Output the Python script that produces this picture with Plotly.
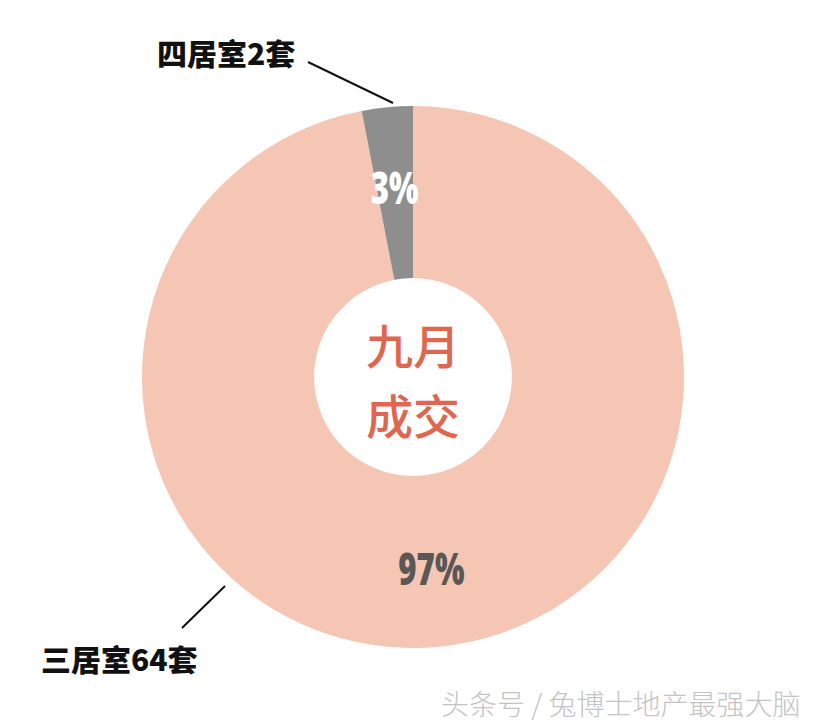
import math
import plotly.graph_objects as go

# Data
categories = ["三居室", "四居室"]
counts = [64, 2]
percent_labels = ["97%", "3%"]
center_title = ["九月", "成交"]
watermark = "头条号 / 兔博士地产最强大脑"

colors = ["#f5c6b4", "#8e8e8e"]
pct_colors = ["#5b5757", "#ffffff"]

W, H = 814, 728
cx, cy, R = 413, 377, 271  # pixel centre and radius

dom_x = [(cx - R) / W, (cx + R) / W]
dom_y = [(H - cy - R) / H, (H - cy + R) / H]

fig = go.Figure(go.Pie(
    labels=categories,
    values=counts,
    sort=False,
    direction="clockwise",
    rotation=0,
    hole=0.365,
    marker=dict(colors=colors, line=dict(width=0)),
    textinfo="none",
    hoverinfo="label+value+percent",
    showlegend=False,
    domain=dict(x=dom_x, y=dom_y),
))

annotations = []
total = sum(counts)
start = 0.0
for i, v in enumerate(counts):
    frac = v / total
    mid = (start + frac / 2) * 2 * math.pi  # clockwise from top
    start += frac
    r = 0.705 * R
    px = cx + r * math.sin(mid)
    py = cy - r * math.cos(mid)
    annotations.append(dict(
        x=px / W, y=1 - py / H, xref="paper", yref="paper",
        text=percent_labels[i], showarrow=False,
        font=dict(family="Open Sans", size=40, color=pct_colors[i], weight=800),
        xanchor="center", yanchor="middle",
    ))

# centre text
for j, t in enumerate(center_title):
    annotations.append(dict(
        x=cx / W, y=1 - (343 + 70 * j) / H, xref="paper", yref="paper",
        text=t, showarrow=False,
        font=dict(family="Noto Sans CJK SC", size=47, color="#e0674f", weight=500),
        xanchor="center", yanchor="middle",
    ))

# outside labels
annotations.append(dict(
    x=155 / W, y=1 - 52 / H, xref="paper", yref="paper",
    text=f"{categories[1]}{counts[1]}套", showarrow=False,
    font=dict(family="Noto Sans CJK SC", size=30, color="#111111", weight=900),
    xanchor="left", yanchor="middle",
))
annotations.append(dict(
    x=39 / W, y=1 - 658 / H, xref="paper", yref="paper",
    text=f"{categories[0]}{counts[0]}套", showarrow=False,
    font=dict(family="Noto Sans CJK SC", size=30, color="#111111", weight=900),
    xanchor="left", yanchor="middle",
))

# watermark
annotations.append(dict(
    x=802 / W, y=1 - 703 / H, xref="paper", yref="paper",
    text=watermark, showarrow=False,
    font=dict(family="Noto Sans CJK SC", size=28, color="#c4c4c4", weight=300),
    xanchor="right", yanchor="middle",
))

shapes = [
    dict(type="line", xref="paper", yref="paper",
         x0=308 / W, y0=1 - 62 / H, x1=393 / W, y1=1 - 103 / H,
         line=dict(color="#111111", width=2)),
    dict(type="line", xref="paper", yref="paper",
         x0=225 / W, y0=1 - 586 / H, x1=182 / W, y1=1 - 628 / H,
         line=dict(color="#111111", width=2)),
]

fig.update_layout(
    width=W, height=H,
    margin=dict(l=0, r=0, t=0, b=0),
    paper_bgcolor="white",
    plot_bgcolor="white",
    annotations=annotations,
    shapes=shapes,
)

post = """
document.body.style.margin='0';
var st=document.createElement('style');
st.textContent='.annotation-text[data-unformatted*="%"]{transform-box:fill-box;transform-origin:center;transform:scale(0.78,1.12);}';
document.head.appendChild(st);
"""
fig.write_html("out.html", post_script=post, config={"displayModeBar": False})
